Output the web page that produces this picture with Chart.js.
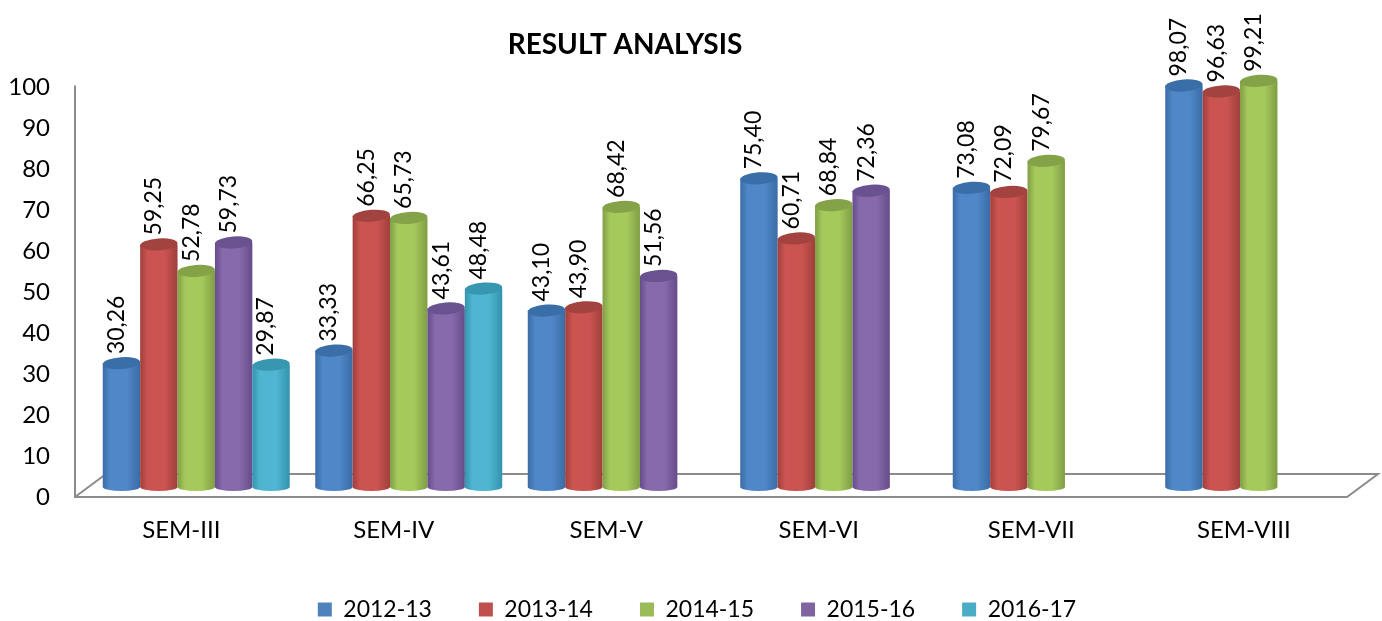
<!DOCTYPE html>
<html>
<head>
<meta charset="utf-8">
<title>Result Analysis</title>
<script src="https://cdn.jsdelivr.net/npm/chart.js@4"></script>
<style>
  html, body { margin: 0; padding: 0; background: #fff; }
  canvas { display: block; }
</style>
</head>
<body>
<canvas id="grafico" width="1382" height="621"></canvas>
<script>
const semestres = ['SEM-III', 'SEM-IV', 'SEM-V', 'SEM-VI', 'SEM-VII', 'SEM-VIII'];
const anos = ['2012-13', '2013-14', '2014-15', '2015-16', '2016-17'];

const valores2012 = [30.26, 33.33, 43.10, 75.40, 73.08, 98.07];
const valores2013 = [59.25, 66.25, 43.90, 60.71, 72.09, 96.63];
const valores2014 = [52.78, 65.73, 68.42, 68.84, 79.67, 99.21];
const valores2015 = [59.73, 43.61, 51.56, 72.36, null, null];
const valores2016 = [29.87, 48.48, null, null, null, null];

const cores = ['#4F81BD', '#C0504D', '#9BBB59', '#8064A2', '#4BACC6'];
// borda, claro, topo de cada cilindro
const tons = [
    { borda: '#3a6ca6', claro: '#5087c8', topo: '#3a6ea8' },
    { borda: '#a03f3c', claro: '#cb5451', topo: '#a3433f' },
    { borda: '#7f9e44', claro: '#a6c95c', topo: '#84a348' },
    { borda: '#654c8a', claro: '#876aac', topo: '#6a5190' },
    { borda: '#3393ae', claro: '#4fb5d0', topo: '#3796b0' }
];

const FONTE = 'Lato, "Open Sans", sans-serif';
const COR_EIXO = '#8c8c8c';
// deslocamento do piso 3D em relação ao eixo da frente
const PROF_X = 15, PROF_Y = 10;
const FUNDO_X = 31, FUNDO_Y = 23;

function formatarValor(v) {
    return v.toFixed(2).replace('.', ',');
}

function desenharCilindro(ctx, x, yTopo, yBase, largura, tom) {
    const rx = largura / 2;
    const ryTopo = 6, ryBase = 4;
    const grad = ctx.createLinearGradient(x - rx, 0, x + rx, 0);
    grad.addColorStop(0, tom.borda);
    grad.addColorStop(0.2, tom.claro);
    grad.addColorStop(0.65, tom.claro);
    grad.addColorStop(1, tom.borda);

    ctx.beginPath();
    ctx.moveTo(x - rx, yTopo);
    ctx.lineTo(x - rx, yBase);
    ctx.ellipse(x, yBase, rx, ryBase, 0, Math.PI, 0, true);
    ctx.lineTo(x + rx, yTopo);
    ctx.closePath();
    ctx.fillStyle = grad;
    ctx.fill();

    ctx.beginPath();
    ctx.ellipse(x, yTopo, rx, ryTopo, -0.07, 0, Math.PI * 2);
    ctx.fillStyle = tom.topo;
    ctx.fill();
}

const plugin3D = {
    id: 'plugin3D',
    afterLayout(chart) {
        // centra título e legenda como no original
        chart.titleBlock.left = 0;
        chart.titleBlock.right = 1250;
        chart.titleBlock.top = 8;
        chart.legend.left += 22;
        chart.legend.right += 22;
        chart.legend.top += 10;
    },
    beforeDatasetsDraw(chart) {
        const ctx = chart.ctx;
        const { left, right, bottom, top } = chart.chartArea;
        const fimPiso = right - 3;

        // piso e eixo
        ctx.save();
        ctx.strokeStyle = COR_EIXO;
        ctx.lineWidth = 2;
        ctx.beginPath();
        ctx.moveTo(left, top - 2);
        ctx.lineTo(left, bottom);
        ctx.lineTo(fimPiso, bottom);
        ctx.lineTo(fimPiso + FUNDO_X, bottom - FUNDO_Y);
        ctx.lineTo(left + FUNDO_X, bottom - FUNDO_Y);
        ctx.lineTo(left, bottom);
        ctx.stroke();

        // cilindros
        chart.data.datasets.forEach((ds, i) => {
            chart.getDatasetMeta(i).data.forEach((barra, j) => {
                if (ds.data[j] === null) return;
                desenharCilindro(ctx, barra.x + PROF_X, barra.y - PROF_Y, barra.base - PROF_Y, barra.width, tons[i]);
            });
        });

        // rótulos
        ctx.fillStyle = '#000';
        ctx.font = '23px ' + FONTE;
        ctx.textAlign = 'left';
        ctx.textBaseline = 'middle';
        chart.data.datasets.forEach((ds, i) => {
            chart.getDatasetMeta(i).data.forEach((barra, j) => {
                if (ds.data[j] === null) return;
                ctx.save();
                ctx.translate(barra.x + PROF_X - 5, barra.y - PROF_Y - 9);
                ctx.rotate(-Math.PI / 2);
                ctx.fillText(formatarValor(ds.data[j]), 0, 0);
                ctx.restore();
            });
        });
        ctx.restore();
        return false;
    }
};

new Chart(document.getElementById('grafico'), {
    type: 'bar',
    data: {
        labels: semestres,
        datasets: [
            { label: anos[0], data: valores2012, backgroundColor: cores[0] },
            { label: anos[1], data: valores2013, backgroundColor: cores[1] },
            { label: anos[2], data: valores2014, backgroundColor: cores[2] },
            { label: anos[3], data: valores2015, backgroundColor: cores[3] },
            { label: anos[4], data: valores2016, backgroundColor: cores[4] }
        ]
    },
    options: {
        responsive: false,
        animation: false,
        layout: { padding: { left: 0, right: 32, top: 14, bottom: 0 } },
        datasets: { bar: { categoryPercentage: 0.88, barPercentage: 1 } },
        plugins: {
            title: {
                display: true,
                text: 'RESULT ANALYSIS',
                color: '#000',
                font: { family: FONTE, size: 28, weight: 'bold' },
                padding: { top: 20, bottom: 20 }
            },
            legend: {
                position: 'bottom',
                labels: {
                    boxWidth: 14,
                    boxHeight: 14,
                    padding: 47,
                    color: '#000',
                    font: { family: FONTE, size: 23 }
                }
            },
            tooltip: { enabled: false }
        },
        scales: {
            x: {
                grid: { display: false },
                border: { display: false },
                ticks: { color: '#000', font: { family: FONTE, size: 24 }, padding: 11, maxRotation: 0 },
                afterFit(escala) { escala.height = 44; }
            },
            y: {
                min: 0,
                max: 100,
                grid: { display: false, drawTicks: false },
                border: { display: false },
                ticks: { stepSize: 10, color: '#000', font: { family: FONTE, size: 24 }, padding: 25 },
                afterFit(escala) { escala.width = 75; }
            }
        }
    },
    plugins: [plugin3D]
});
</script>
</body>
</html>
